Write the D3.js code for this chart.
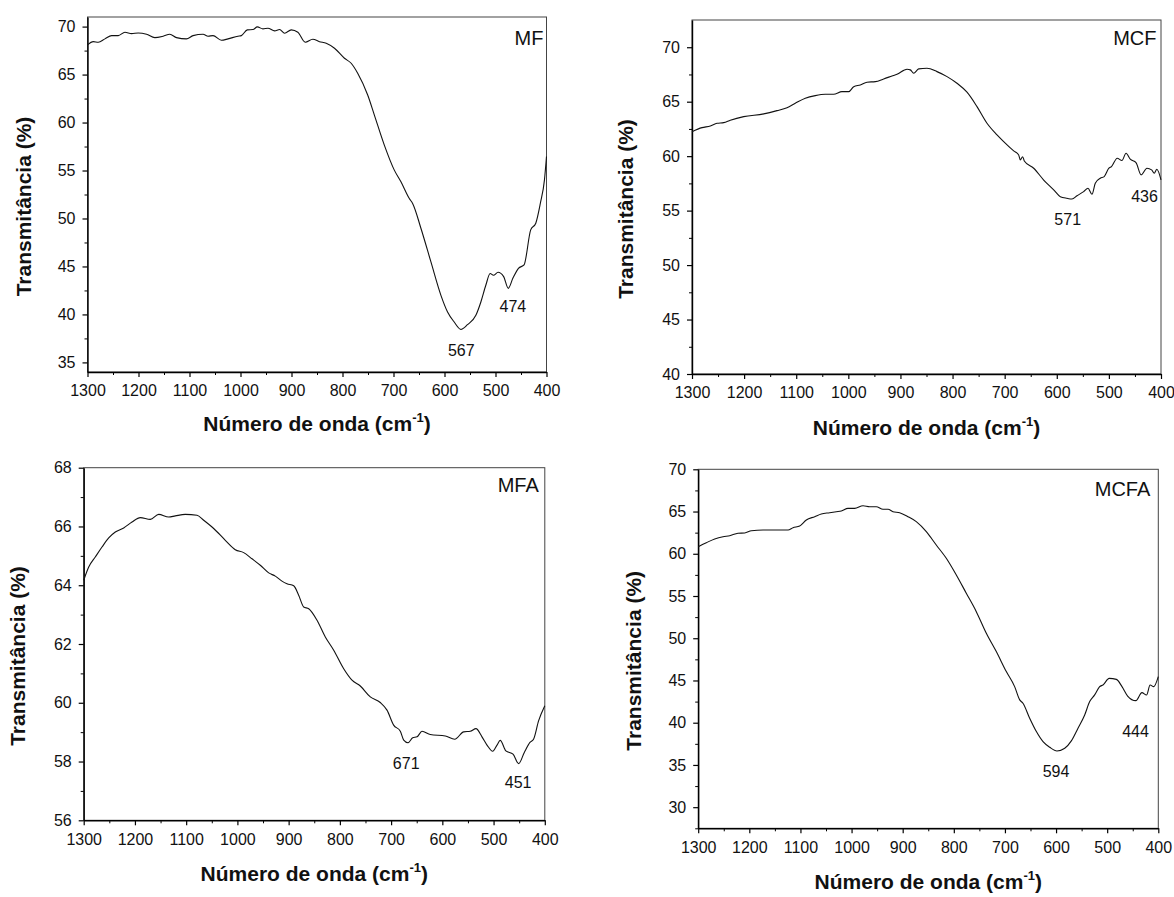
<!DOCTYPE html>
<html>
<head>
<meta charset="utf-8">
<script src="https://cdn.jsdelivr.net/npm/d3@7"></script>
<style>
  body { margin: 0; background: #fff; }
  svg { display: block; }
  text { font-family: "Liberation Sans", Arial, sans-serif; }
</style>
</head>
<body>
<div id="chart"></div>
<script>
const width = 1174;
const height = 897;

// wavenumber ticks (cm-1)
const waveTicks = [1300, 1200, 1100, 1000, 900, 800, 700, 600, 500, 400];
const waveMinor = d3.range(1250, 400, -100);

// spectra: [wavenumber, transmittance %]
const mfData = [[1300,68.09],[1288.6,68.43],[1278.9,68.37],[1265.8,68.72],[1252.7,69.06],[1239.7,69.06],[1226.6,69.41],[1213.5,69.27],[1200.5,69.34],[1184.2,69.2],[1168,68.85],[1151.6,69.0],[1138.6,69.2],[1125.5,68.85],[1106,68.72],[1093,69.06],[1073.4,69.2],[1063.6,69.0],[1053.9,69.06],[1037.5,68.58],[1024.5,68.72],[1005,69.0],[998.3,69.06],[986.6,69.66],[975.6,69.69],[967,69.97],[956,69.76],[946.2,69.83],[933.1,69.55],[923.3,69.69],[913.5,69.31],[900.5,69.66],[887.5,69.41],[873.1,68.37],[858.2,68.68],[845.1,68.43],[831.9,68.26],[815.7,67.74],[796.2,66.7],[783,66.18],[770.2,65.14],[750.6,62.87],[737.5,60.78],[718,57.65],[698.4,55.04],[685.4,53.82],[669,52.08],[662.5,51.57],[646.1,48.96],[626.6,45.47],[607,41.99],[594,40.25],[581,39.21],[567.9,38.44],[555,38.93],[538.5,39.91],[528.7,41.3],[519,43.04],[510.5,44.26],[504,44.08],[495,44.39],[484,43.94],[475,42.72],[466,43.76],[455,44.81],[444,45.16],[431,48.81],[421,49.51],[412,51.59],[404,54.03],[400,56.46]];

const mcfData = [[1300,62.25],[1280.8,62.62],[1264.8,62.77],[1252,63.02],[1239.2,63.08],[1226.5,63.3],[1200.8,63.63],[1162.4,63.88],[1136.9,64.18],[1117.7,64.45],[1101.8,64.86],[1082.6,65.32],[1063.4,65.56],[1044.2,65.68],[1028.3,65.68],[1012.2,65.92],[999.3,65.92],[989.7,66.38],[977,66.54],[964.2,66.79],[948.2,66.84],[932.2,67.09],[916.2,67.36],[906.6,67.52],[887.4,67.98],[881,67.92],[874.6,67.61],[865,68.01],[849.1,68.07],[829.9,67.76],[810.6,67.3],[791.5,66.69],[772.3,65.87],[753.1,64.55],[733.9,63.02],[714.7,61.95],[701.9,61.33],[682.7,60.48],[673.1,60.11],[670,59.65],[665.5,59.95],[662.3,59.56],[644.3,58.89],[625.1,57.81],[605.9,56.9],[593.2,56.28],[580.4,56.13],[570.8,56.07],[561.2,56.37],[548.4,56.74],[540.1,57.05],[532.5,56.5],[526.1,57.51],[516.5,57.97],[509,58.12],[500,58.89],[495,59.04],[484,59.81],[475,59.6],[467,60.27],[459,59.72],[448,59.41],[438,58.28],[427,58.89],[418,58.74],[413,58.43],[408,58.8],[400,57.82]];

const mfaData = [[1300,64.17],[1290.2,64.62],[1277.4,64.96],[1264.3,65.3],[1251.2,65.61],[1238.3,65.81],[1221.9,65.95],[1205.7,66.15],[1189.5,66.3],[1170,66.24],[1153.6,66.41],[1134.1,66.32],[1121.2,66.36],[1101.7,66.41],[1078.9,66.38],[1065.8,66.21],[1046.3,65.93],[1023.6,65.53],[1004.1,65.21],[987.7,65.11],[971.5,64.9],[955.3,64.68],[938.9,64.42],[926,64.31],[913,64.14],[903.2,64.05],[890.1,63.98],[880.4,63.66],[870.6,63.26],[860.8,63.2],[844.6,62.81],[828.4,62.24],[812,61.79],[792.5,61.16],[776.3,60.77],[760.1,60.57],[740.6,60.2],[721.1,60.01],[708,59.75],[695,59.24],[682,59.03],[675.4,58.73],[667,58.64],[657.8,58.81],[649.4,58.84],[639.7,59.03],[623.5,58.92],[594.2,58.87],[575.8,58.76],[558.3,59.01],[545.4,59.03],[534.3,59.12],[522.6,58.84],[512.8,58.56],[501.7,58.35],[493.3,58.56],[487,58.72],[476,58.36],[462,58.25],[451,57.93],[440,58.31],[429,58.65],[422,58.76],[412,59.39],[400,59.9]];

const mcfaData = [[1300,60.84],[1284.1,61.31],[1267.7,61.75],[1251.5,62.02],[1238.4,62.14],[1222.1,62.43],[1209,62.46],[1196,62.73],[1173.2,62.82],[1147.2,62.82],[1124.3,62.82],[1114.5,63.09],[1101.5,63.29],[1088.5,64.0],[1072.1,64.39],[1059.2,64.71],[1042.8,64.86],[1029.8,64.98],[1020,65.07],[1007,65.38],[993.9,65.38],[977.6,65.69],[964.6,65.57],[951.6,65.57],[938.5,65.27],[928.7,65.27],[919,64.98],[906,64.86],[889.6,64.39],[873.4,63.8],[853.8,62.62],[834.3,61.04],[814.7,59.47],[795.1,57.49],[775.6,55.33],[756,53.15],[736.4,50.59],[716.9,48.42],[697.3,46.05],[681,44.27],[671.1,42.7],[664.7,42.31],[651.6,40.53],[638.5,38.95],[625.5,37.76],[612.4,37.1],[598.2,36.66],[583,36.98],[570.1,37.85],[557.1,39.35],[544,40.92],[534.2,42.5],[524.5,43.29],[514.7,44.27],[508.2,44.47],[496,45.25],[482,45.13],[471,44.27],[460,43.16],[444,42.61],[432,43.56],[423,43.28],[416,44.46],[409,44.27],[400,45.45]];

// y ticks per panel
const mfYTicks = [35, 40, 45, 50, 55, 60, 65, 70];
const mcfYTicks = [40, 45, 50, 55, 60, 65, 70];
const mfaYTicks = [56, 58, 60, 62, 64, 66, 68];
const mcfaYTicks = [30, 35, 40, 45, 50, 55, 60, 65, 70];

// band labels: [text, wavenumber, transmittance at baseline]
const mfPeaks = [['567', 567, 35.7], ['474', 466, 40.25]];
const mcfPeaks = [['571', 579, 53.68], ['436', 431.5, 55.82]];
const mfaPeaks = [['671', 670.5, 57.74], ['451', 452, 57.1]];
const mcfaPeaks = [['594', 600, 33.6], ['444', 444.5, 38.36]];

const panels = [
    { name: 'MF', data: mfData, yDomain: [34, 71], yTicks: mfYTicks, yMinor: 2.5, peaks: mfPeaks,
      left: 87.5, right: 546.5, top: 17, bottom: 372, yTitleX: 31.3, xTitleY: 431, labelInset: 3, labelY: 45 },
    { name: 'MCF', data: mcfData, yDomain: [40, 72.5], yTicks: mcfYTicks, yMinor: 2.5, peaks: mcfPeaks,
      left: 692, right: 1161, top: 20, bottom: 374, yTitleX: 632.8, xTitleY: 434.5, labelInset: 4.5, labelY: 45 },
    { name: 'MFA', data: mfaData, yDomain: [56, 68], yTicks: mfaYTicks, yMinor: 1, peaks: mfaPeaks,
      left: 83.7, right: 544.8, top: 467.7, bottom: 820.3, yTitleX: 24.7, xTitleY: 881, labelInset: 6, labelY: 491.7 },
    { name: 'MCFA', data: mcfaData, yDomain: [27.5, 70], yTicks: mcfaYTicks, yMinor: 2.5, peaks: mcfaPeaks,
      left: 698.2, right: 1158.3, top: 469.3, bottom: 828.3, yTitleX: 641, xTitleY: 888.5, labelInset: 8, labelY: 496 }
];

const svg = d3.select('#chart')
    .append('svg')
    .attr('width', width)
    .attr('height', height);

panels.forEach(p => {
    const x = d3.scaleLinear().domain([1300, 400]).range([p.left, p.right]);
    const y = d3.scaleLinear().domain(p.yDomain).range([p.bottom, p.top]);
    const g = svg.append('g');

    // frame
    g.append('rect')
        .attr('x', p.left)
        .attr('y', p.top)
        .attr('width', p.right - p.left)
        .attr('height', p.bottom - p.top)
        .attr('fill', 'none')
        .attr('stroke', '#444')
        .attr('stroke-width', 1);

    // minor ticks
    const yMinorVals = d3.range(p.yTicks[0] - p.yMinor, p.yDomain[1], p.yMinor)
        .filter(v => v >= p.yDomain[0] && !p.yTicks.includes(v));

    g.append('g')
        .attr('transform', `translate(0, ${p.bottom})`)
        .call(d3.axisBottom(x).tickValues(waveMinor).tickSize(3).tickFormat(''))
        .call(s => s.select('.domain').remove());

    g.append('g')
        .attr('transform', `translate(${p.left}, 0)`)
        .call(d3.axisLeft(y).tickValues(yMinorVals).tickSize(3).tickFormat(''))
        .call(s => s.select('.domain').remove());

    // major axes
    const xAxis = g.append('g')
        .attr('transform', `translate(0, ${p.bottom})`)
        .call(d3.axisBottom(x).tickValues(waveTicks).tickSize(5).tickSizeOuter(0).tickPadding(8).tickFormat(d3.format('d')));

    const yAxis = g.append('g')
        .attr('transform', `translate(${p.left}, 0)`)
        .call(d3.axisLeft(y).tickValues(p.yTicks).tickSize(5).tickSizeOuter(0).tickPadding(7).tickFormat(d3.format('d')));

    [xAxis, yAxis].forEach(a => {
        a.attr('font-size', 16).attr('font-family', '"Liberation Sans", Arial, sans-serif');
        a.select('.domain').attr('stroke-width', 1.4);
        a.selectAll('.tick line').attr('stroke-width', 1.2);
        a.selectAll('.tick text').attr('fill', '#111');
    });

    // spectrum
    g.append('path')
        .datum(p.data)
        .attr('fill', 'none')
        .attr('stroke', '#111')
        .attr('stroke-width', 1.1)
        .attr('d', d3.line().x(d => x(d[0])).y(d => y(d[1])).curve(d3.curveMonotoneX));

    // band labels
    g.selectAll('.peak')
        .data(p.peaks)
        .enter()
        .append('text')
        .attr('class', 'peak')
        .attr('x', d => x(d[1]))
        .attr('y', d => y(d[2]))
        .attr('text-anchor', 'middle')
        .attr('font-size', 16)
        .attr('fill', '#111')
        .text(d => d[0]);

    // sample name
    g.append('text')
        .attr('x', p.right - p.labelInset)
        .attr('y', p.labelY)
        .attr('text-anchor', 'end')
        .attr('font-size', 20)
        .attr('fill', '#111')
        .text(p.name);

    // axis titles
    const xTitle = g.append('text')
        .attr('x', (p.left + p.right) / 2)
        .attr('y', p.xTitleY)
        .attr('text-anchor', 'middle')
        .attr('font-size', 21)
        .attr('font-weight', 'bold')
        .attr('fill', '#111');
    xTitle.append('tspan').text('Número de onda (cm');
    xTitle.append('tspan').attr('font-size', 13).attr('dy', -9).text('-1');
    xTitle.append('tspan').attr('dy', 9).text(')');

    g.append('text')
        .attr('transform', `translate(${p.yTitleX}, ${(p.top + p.bottom) / 2 + 12}) rotate(-90)`)
        .attr('text-anchor', 'middle')
        .attr('font-size', 21)
        .attr('font-weight', 'bold')
        .attr('fill', '#111')
        .text('Transmitância (%)');
});
</script>
</body>
</html>
